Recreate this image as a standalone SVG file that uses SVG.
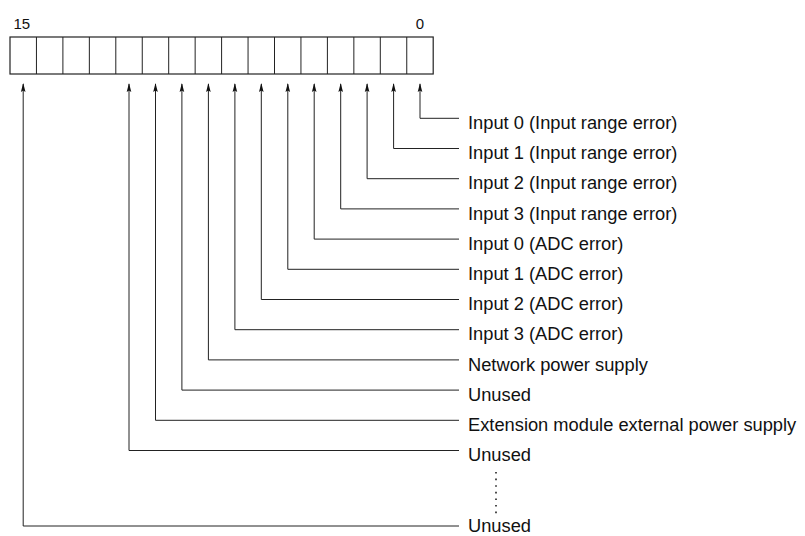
<svg xmlns="http://www.w3.org/2000/svg" width="805" height="536" viewBox="0 0 805 536">
<style>
.lbl{font-family:"Liberation Sans",Arial,Helvetica,sans-serif;font-size:18.3px;fill:#111}
.bit{font-family:"Liberation Sans",Arial,Helvetica,sans-serif;font-size:15px;fill:#111}
.cell{fill:#fff;stroke:#222;stroke-width:1.2}
.con{fill:none;stroke:#222;stroke-width:1}
</style>
<defs>
<marker id="ah" markerUnits="userSpaceOnUse" viewBox="-1 -4 11 8" markerWidth="11" markerHeight="8" refX="8" refY="0" orient="auto">
<path d="M0,-2.3 L9,0 L0,2.3 L1.5,0 z" fill="#111"/>
</marker>
</defs>
<rect width="805" height="536" fill="#fff"/>
<g id="register">
<rect class="cell" x="10" y="37" width="423.2" height="37"/>
<path class="con" d="M36.45,37V74M62.9,37V74M89.35,37V74M115.8,37V74M142.25,37V74M168.7,37V74M195.15,37V74M221.6,37V74M248.05,37V74M274.5,37V74M300.95,37V74M327.4,37V74M353.85,37V74M380.3,37V74M406.75,37V74"/>
<text class="bit" x="13.5" y="29">15</text>
<text class="bit" x="420" y="29" text-anchor="middle">0</text>
</g>
<g id="connectors" class="con" marker-end="url(#ah)">
<path d="M459,118.3H420V84"/>
<path d="M459,148.5H393.6V84"/>
<path d="M459,178.7H367.1V84"/>
<path d="M459,208.9H340.7V84"/>
<path d="M459,239.1H314.2V84"/>
<path d="M459,269.3H287.8V84"/>
<path d="M459,299.5H261.3V84"/>
<path d="M459,329.7H234.9V84"/>
<path d="M459,359.9H208.4V84"/>
<path d="M459,390.1H181.9V84"/>
<path d="M459,420.3H155.5V84"/>
<path d="M459,450.5H129V84"/>
<path d="M459,526H23.2V84"/>
</g>
<line x1="496" y1="472" x2="496" y2="514" stroke="#222" stroke-width="1.6" stroke-dasharray="1.6 5"/>
<g id="labels" class="lbl">
<text x="468" y="129">Input 0 (Input range error)</text>
<text x="468" y="159.2">Input 1 (Input range error)</text>
<text x="468" y="189.4">Input 2 (Input range error)</text>
<text x="468" y="219.6">Input 3 (Input range error)</text>
<text x="468" y="249.8">Input 0 (ADC error)</text>
<text x="468" y="280">Input 1 (ADC error)</text>
<text x="468" y="310.2">Input 2 (ADC error)</text>
<text x="468" y="340.4">Input 3 (ADC error)</text>
<text x="468" y="370.6">Network power supply</text>
<text x="468" y="400.8">Unused</text>
<text x="468" y="431">Extension module external power supply</text>
<text x="468" y="461.2">Unused</text>
<text x="468" y="531.5">Unused</text>
</g>
</svg>
